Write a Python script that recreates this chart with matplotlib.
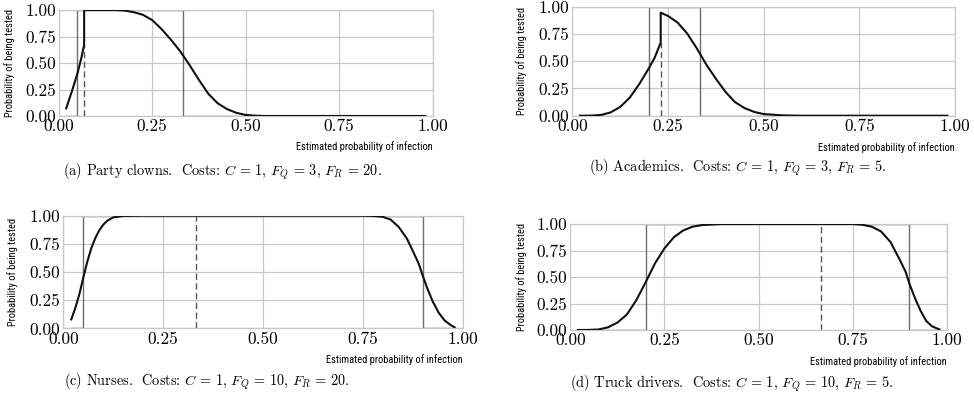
import matplotlib
matplotlib.use("Agg")
import matplotlib.pyplot as plt

# --- data ---
tick_vals = [0.0, 0.25, 0.5, 0.75, 1.0]
tick_labels = ["0.00", "0.25", "0.50", "0.75", "1.00"]

# (a) party clowns
a_x = [0.02, 0.035, 0.05, 0.06, 0.068, 0.068, 0.1, 0.15, 0.175, 0.2, 0.225, 0.25,
       0.275, 0.3, 0.325, 0.35, 0.375, 0.4, 0.425, 0.45, 0.475, 0.5, 0.525, 0.55, 0.98]
a_y = [0.072, 0.23, 0.40, 0.54, 0.67, 1.0, 1.0, 1.0, 0.995, 0.98, 0.955, 0.905,
       0.82, 0.72, 0.61, 0.48, 0.34, 0.21, 0.12, 0.065, 0.03, 0.01, 0.003, 0.0, 0.0]
a_rect = [0.05, 1 / 3]
a_dash = [0.068, 0.67]

# (b) academics
b_x = [0.02, 0.05, 0.075, 0.1, 0.125, 0.15, 0.175, 0.2, 0.215, 0.231, 0.231, 0.25,
       0.275, 0.3, 0.325, 0.35, 0.375, 0.4, 0.425, 0.45, 0.475, 0.5, 0.55, 0.6, 0.98]
b_y = [0.0, 0.001, 0.007, 0.03, 0.08, 0.165, 0.29, 0.435, 0.53, 0.67, 0.945, 0.915,
       0.855, 0.755, 0.62, 0.47, 0.34, 0.22, 0.125, 0.07, 0.035, 0.015, 0.003, 0.0, 0.0]
b_rect = [0.2, 1 / 3]
b_dash = [0.231, 0.67]

# (c) nurses
c_x = [0.02, 0.03, 0.04, 0.05, 0.06, 0.07, 0.08, 0.09, 0.1, 0.11, 0.125, 0.15, 0.2,
       0.75, 0.775, 0.8, 0.82, 0.84, 0.86, 0.875, 0.89, 0.9, 0.91, 0.925, 0.94,
       0.955, 0.97, 0.98]
c_y = [0.08, 0.18, 0.30, 0.45, 0.59, 0.71, 0.80, 0.87, 0.92, 0.955, 0.985, 0.998, 1.0,
       1.0, 0.998, 0.99, 0.965, 0.90, 0.80, 0.69, 0.575, 0.47, 0.37, 0.24, 0.14,
       0.07, 0.03, 0.01]
c_rect = [0.05, 0.9]
c_dash = [1 / 3, 1.0]

# (d) truck drivers
d_x = [0.02, 0.05, 0.075, 0.1, 0.125, 0.15, 0.175, 0.2, 0.225, 0.25, 0.275, 0.3,
       0.325, 0.35, 0.4, 0.75, 0.775, 0.8, 0.825, 0.85, 0.875, 0.89, 0.9, 0.915,
       0.93, 0.945, 0.96, 0.98]
d_y = [0.0, 0.001, 0.005, 0.025, 0.07, 0.145, 0.28, 0.45, 0.63, 0.77, 0.875, 0.94,
       0.975, 0.99, 1.0, 1.0, 0.993, 0.975, 0.93, 0.83, 0.66, 0.55, 0.44, 0.30,
       0.18, 0.085, 0.035, 0.005]
d_rect = [0.2, 0.9]
d_dash = [2 / 3, 1.0]

captions = [
    r"(a) Party clowns.  Costs: $C\,=\,1$, $F_Q\,=\,3$, $F_R\,=\,20$.",
    r"(b) Academics.  Costs: $C\,=\,1$, $F_Q\,=\,3$, $F_R\,=\,5$.",
    r"(c) Nurses.  Costs: $C\,=\,1$, $F_Q\,=\,10$, $F_R\,=\,20$.",
    r"(d) Truck drivers.  Costs: $C\,=\,1$, $F_Q\,=\,10$, $F_R\,=\,5$.",
]

plt.rcParams["mathtext.fontset"] = "cm"
plt.rcParams["axes.formatter.use_mathtext"] = True

W, H = 974, 400
GRID = "#c8c8c8"
# narrow sans for the small axis titles, falls back to DejaVu if none is there
SANS = ["Roboto Condensed", "Archivo Narrow", "PT Sans Narrow",
        "Liberation Sans Narrow", "DejaVu Sans"]

# axes boxes in pixels: left, top, width, height
boxes = [(58.7, 10, 374, 106), (572.3, 6.7, 382.7, 109),
         (63.3, 215.7, 399.3, 112.7), (570.3, 224, 376.7, 106)]
ylab_x = [-0.117, -0.118, -0.113, -0.115]
xlab_y = [-0.29, -0.288, -0.28, -0.30]
cap_pos = [(222, 172), (738, 168), (207, 382), (732, 384)]

panels = [(a_x, a_y, a_rect, a_dash), (b_x, b_y, b_rect, b_dash),
          (c_x, c_y, c_rect, c_dash), (d_x, d_y, d_rect, d_dash)]

fig = plt.figure(figsize=(W / 100, H / 100), dpi=100)
for i, (xs, ys, rect, dash) in enumerate(panels):
    l, t, w, h = boxes[i]
    ax = fig.add_axes([l / W, 1 - (t + h) / H, w / W, h / H])
    # recommended-test window
    ax.plot([0.02, rect[0], rect[0], rect[1], rect[1], 0.98], [0, 0, 1, 1, 0, 0],
            color="#6e6e6e", lw=1.0, zorder=2)
    ax.plot(xs, ys, color="#111111", lw=1.5, zorder=3)
    ax.plot([dash[0], dash[0]], [0, dash[1]], color="#555555", lw=1.0,
            ls=(0, (4.5, 2.5)), zorder=2)
    ax.set_xlim(0, 1)
    ax.set_ylim(0, 1)
    ax.set_xticks(tick_vals)
    ax.set_xticklabels(tick_labels)
    ax.set_yticks(tick_vals)
    ax.set_yticklabels(tick_labels)
    ax.tick_params(length=0, pad=2, labelsize=12.5)
    for lab in ax.get_xticklabels() + ax.get_yticklabels():
        lab.set_family("cmr10")
    ax.grid(True, color=GRID, lw=0.9)
    ax.set_axisbelow(True)
    for s in ax.spines.values():
        s.set_color(GRID)
        s.set_linewidth(0.9)
    ax.set_ylabel("Probability of being tested", family=SANS, fontsize=7.5)
    ax.yaxis.set_label_coords(ylab_x[i], 0.5)
    ax.set_xlabel("Estimated probability of infection", family=SANS, fontsize=7.5,
                  ha="right", va="center")
    ax.xaxis.set_label_coords(1.0, xlab_y[i])
    cx, cy = cap_pos[i]
    fig.text(cx / W, 1 - cy / H, captions[i], ha="center", va="center",
             family="cmr10", fontsize=10.3)

fig.savefig("out.png", dpi=100)
